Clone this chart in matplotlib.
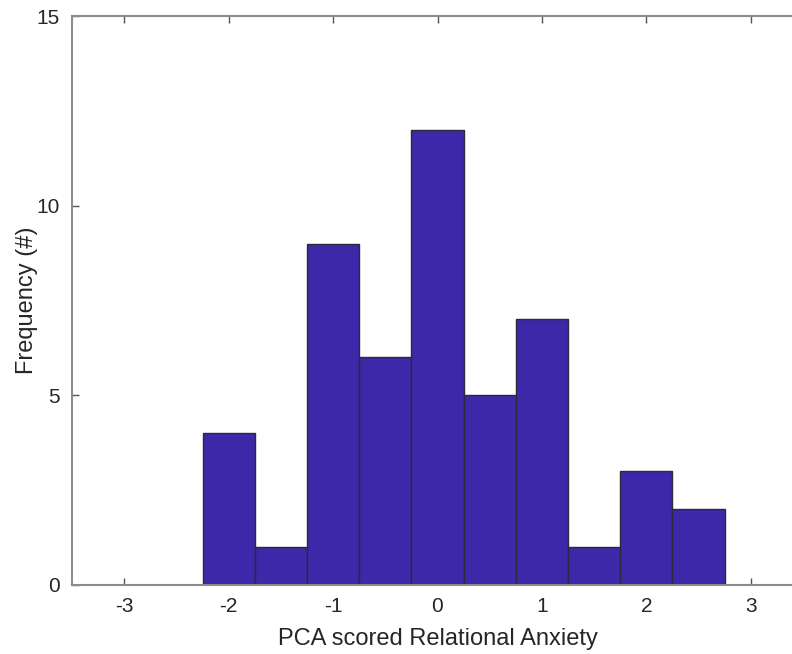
import numpy as np
import matplotlib.pyplot as plt

plt.rcParams['font.family'] = ['Liberation Sans', 'DejaVu Sans']

# Histogram bins (edges) and counts
bin_edges = [-2.25, -1.75, -1.25, -0.75, -0.25, 0.25, 0.75, 1.25, 1.75, 2.25, 2.75]
counts = [4, 1, 9, 6, 12, 5, 7, 1, 3, 2]
x_ticks = [-3, -2, -1, 0, 1, 2, 3]
y_ticks = [0, 5, 10, 15]

W, H = 792, 654
fig = plt.figure(figsize=(W / 100, H / 100), dpi=100)
ax = fig.add_axes([72 / W, 1 - 585 / H, (803 - 72) / W, (585 - 16) / H])

edges = np.array(bin_edges)
ax.bar(edges[:-1], counts, width=np.diff(edges), align='edge',
       color='#3c28a8', edgecolor='#2a2a3a', linewidth=1.0)
ax.set_axisbelow(True)

ax.set_xlim(-3.5, 3.5)
ax.set_ylim(0, 15)
ax.set_xticks(x_ticks)
ax.set_xticklabels([str(t) for t in x_ticks])
ax.set_yticks(y_ticks)
ax.tick_params(direction='in', top=True, right=True, length=5, width=1,
               color='#555555', labelsize=15, labelcolor='#262626', pad=9)
for s in ax.spines.values():
    s.set_color('#8c8c8c')
    s.set_linewidth(1.5)

ax.set_xlabel('PCA scored Relational Anxiety', fontsize=17, color='#262626', labelpad=8)
ax.set_ylabel('Frequency (#)', fontsize=17, color='#262626', labelpad=-1.5)

fig.savefig('out.png', dpi=100)
